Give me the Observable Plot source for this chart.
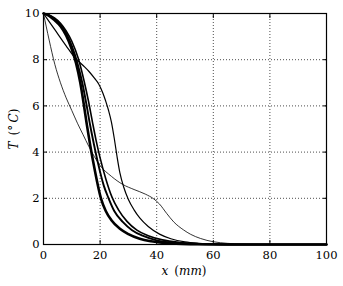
<!DOCTYPE html>
<html><head><meta charset="utf-8">
<script src="https://cdn.jsdelivr.net/npm/d3@7"></script>
<script src="https://cdn.jsdelivr.net/npm/@observablehq/plot@0.6"></script>
<style>body{margin:0;background:#fff}</style>
</head><body><div id="chart"></div>
<script>
const xTicks = [0, 20, 40, 60, 80, 100];
const yTicks = [0, 2, 4, 6, 8, 10];

const thinX = [0,2,4,6,8,10,12,14,16,18,20,24,28,32,36,39,41,43.5,46,49.5,52,55.5,60,65,70,80,100];
const thinT = [10,8.85,7.8,7.0,6.35,5.8,5.25,4.75,4.25,3.8,3.42,2.95,2.6,2.38,2.18,1.97,1.75,1.35,0.98,0.63,0.44,0.26,0.12,0.05,0.02,0,0];

const medX = [0,4,8,11,14,16,18,19.5,21,22,23,24,25,26,27,28.3,30,32,34,37,41,45,50,55,60,70,100];
const medT = [10,9.3,8.6,8.1,7.75,7.5,7.2,6.95,6.55,6.2,5.8,5.3,4.6,3.8,3.1,2.5,1.95,1.5,1.15,0.78,0.45,0.25,0.11,0.05,0.02,0,0];

const aX = [0,2,4,6,8,10,11.5,13,14.2,15.3,16.5,18,20.3,22,24,27,30,34,38,45,55,65,100];
const aT = [10,9.9,9.7,9.45,9.05,8.45,7.85,7.0,6.1,5.2,4.3,3.3,2.0,1.45,1.05,0.68,0.45,0.25,0.14,0.05,0.01,0,0];

const bX = [0,2,4,6,8,10,12,13.8,15.2,16.5,17.8,19.3,21.3,23,25,28,31.3,35,40,45,52,62,100];
const bT = [10,9.92,9.76,9.52,9.15,8.6,7.85,6.95,6.05,5.15,4.35,3.5,2.55,2.0,1.45,0.98,0.62,0.38,0.18,0.09,0.03,0,0];

const cX = [0,2,4,6,8,10,12.3,14.3,15.9,17.3,18.6,20,22,24.2,26.5,29.5,33,37,42,48,55,65,100];
const cT = [10,9.94,9.8,9.58,9.25,8.8,8.05,7.1,6.2,5.3,4.5,3.75,2.85,2.05,1.5,1.0,0.62,0.38,0.2,0.09,0.03,0,0];

const toRows = (xs, ts) => xs.map((x, i) => ({x, T: ts[i]}));

const font = "DejaVu Serif";
const lineOpts = w => ({x: "x", y: "T", stroke: "black", strokeWidth: w, curve: "monotone-x"});

const chart = Plot.plot({
  width: 343,
  height: 286,
  marginLeft: 43,
  marginRight: 17,
  marginTop: 13,
  marginBottom: 42,
  style: {fontFamily: font, fontSize: "11.5px", background: "white", color: "black"},
  x: {domain: [0, 100]},
  y: {domain: [0, 10]},
  marks: [
    Plot.gridX(xTicks.slice(1, -1), {stroke: "black", strokeOpacity: 0.7, strokeDasharray: "1,2"}),
    Plot.gridY(yTicks.slice(1, -1), {stroke: "black", strokeOpacity: 0.7, strokeDasharray: "1,2"}),
    Plot.axisX(xTicks, {anchor: "bottom", tickSize: 0, tickPadding: 6, label: null, fontSize: 11.5, fontFamily: font}),
    Plot.axisY(yTicks, {anchor: "left", tickSize: 0, tickPadding: 4, label: null, fontSize: 11.5, fontFamily: font}),
    Plot.axisX(xTicks, {anchor: "bottom", tickSize: -4, tickFormat: () => "", label: null}),
    Plot.axisX(xTicks, {anchor: "top", tickSize: -4, tickFormat: () => "", label: null}),
    Plot.axisY(yTicks, {anchor: "left", tickSize: -4, tickFormat: () => "", label: null}),
    Plot.axisY(yTicks, {anchor: "right", tickSize: -4, tickFormat: () => "", label: null}),
    Plot.line(toRows(thinX, thinT), lineOpts(0.8)),
    Plot.line(toRows(medX, medT), lineOpts(1.2)),
    Plot.line(toRows(cX, cT), lineOpts(1.6)),
    Plot.line(toRows(bX, bT), lineOpts(1.9)),
    Plot.line(toRows(aX, aT), lineOpts(2.6)),
    Plot.frame({stroke: "black", strokeWidth: 1.2})
  ]
});

const svg = d3.select(chart);
const xl = svg.append("text")
  .attr("x", 184).attr("y", 275)
  .attr("text-anchor", "middle")
  .attr("font-family", font)
  .attr("font-size", 12);
xl.append("tspan").attr("font-style", "italic").text("x");
xl.append("tspan").text("\u2002(");
xl.append("tspan").attr("font-style", "italic").text("mm");
xl.append("tspan").text(")");

const yl = svg.append("text")
  .attr("transform", "translate(18,129) rotate(-90)")
  .attr("text-anchor", "middle")
  .attr("font-family", font)
  .attr("font-size", 12);
yl.append("tspan").attr("font-style", "italic").text("T");
yl.append("tspan").text("\u2002(\u00B0\u2009");
yl.append("tspan").attr("font-style", "italic").text("C");
yl.append("tspan").text(")");

document.getElementById("chart").appendChild(chart);
</script>
</body></html>
